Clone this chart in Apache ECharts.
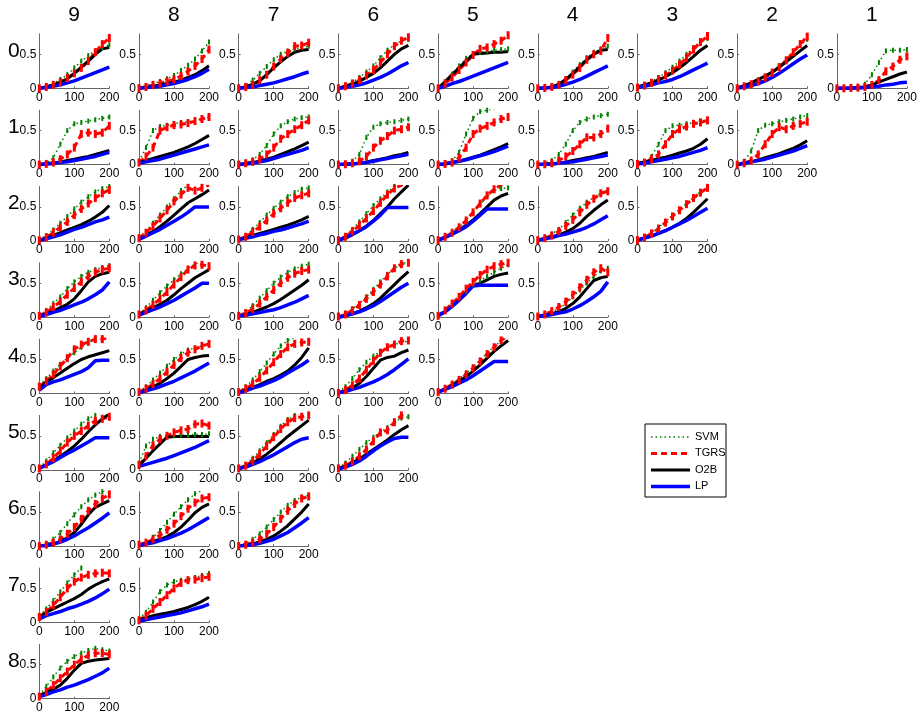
<!DOCTYPE html>
<html><head><meta charset="utf-8">
<script src="https://cdn.jsdelivr.net/npm/echarts@6/dist/echarts.min.js"></script>
<style>html,body{margin:0;padding:0;background:#fff}#c{width:920px;height:717px}</style>
</head><body><div id="c"></div>
<script>
const xs = [0,20,40,60,80,100,120,140,160,180,200];
const colLabels = ['9','8','7','6','5','4','3','2','1'];
const rowLabels = ['0','1','2','3','4','5','6','7','8'];
const seriesNames = ['SVM','TGRS','O2B','LP'];

// each row: panels for columns 9,8,7,... ; each panel: values at xs
const SVM = [
 [[0,0.03,0.07,0.13,0.2,0.3,0.4,0.48,0.55,0.6,0.64],
  [0.02,0.04,0.07,0.1,0.14,0.19,0.26,0.34,0.43,0.55,0.68],
  [0,0.04,0.12,0.22,0.32,0.42,0.5,0.55,0.58,0.6,0.62],
  [0,0.04,0.09,0.16,0.24,0.33,0.45,0.56,0.64,0.7,0.72],
  [0,0.1,0.21,0.33,0.44,0.51,0.53,0.55,0.56,0.57,0.58],
  [0,0.01,0.03,0.07,0.14,0.24,0.35,0.45,0.53,0.58,0.62],
  [0.01,0.05,0.1,0.16,0.23,0.31,0.4,0.5,0.6,0.68,0.73],
  [0,0.03,0.07,0.12,0.18,0.25,0.33,0.43,0.53,0.63,0.72],
  [0,0,0.005,0.02,0.06,0.2,0.38,0.55,0.56,0.56,0.57]],
 [[0,0.02,0.1,0.3,0.5,0.6,0.62,0.64,0.66,0.68,0.7],
  [0.05,0.25,0.5,0.56,0.58,0.6,0.62,0.63,0.65,0.67,0.7],
  [0,0.03,0.07,0.15,0.28,0.45,0.57,0.63,0.67,0.69,0.7],
  [0,0.01,0.05,0.15,0.4,0.55,0.6,0.62,0.63,0.65,0.67],
  [0,0.02,0.06,0.18,0.45,0.68,0.78,0.8,0.82,0.85,0.87],
  [0,0.02,0.06,0.15,0.3,0.5,0.62,0.67,0.7,0.72,0.74],
  [0,0.03,0.12,0.3,0.5,0.57,0.58,0.6,0.62,0.64,0.66],
  [0,0.05,0.2,0.5,0.58,0.6,0.63,0.65,0.67,0.7,0.72]],
 [[0.02,0.08,0.16,0.26,0.36,0.47,0.57,0.65,0.72,0.77,0.8],
  [0.05,0.14,0.26,0.38,0.5,0.62,0.74,0.82,0.85,0.87,0.88],
  [0.02,0.08,0.17,0.27,0.38,0.48,0.57,0.65,0.71,0.76,0.78],
  [0.02,0.08,0.17,0.28,0.4,0.52,0.62,0.72,0.8,0.85,0.88],
  [0.01,0.06,0.12,0.2,0.3,0.42,0.54,0.65,0.74,0.77,0.78],
  [0.01,0.05,0.1,0.17,0.27,0.38,0.48,0.57,0.64,0.7,0.74],
  [0.01,0.06,0.12,0.2,0.28,0.37,0.46,0.55,0.64,0.72,0.78]],
 [[0.02,0.1,0.2,0.3,0.42,0.52,0.6,0.66,0.7,0.73,0.76],
  [0.05,0.14,0.25,0.36,0.46,0.55,0.64,0.72,0.78,0.82,0.85],
  [0.02,0.08,0.17,0.28,0.39,0.5,0.59,0.66,0.71,0.75,0.78],
  [0.01,0.05,0.12,0.2,0.3,0.41,0.52,0.63,0.72,0.78,0.82],
  [0.02,0.09,0.18,0.28,0.38,0.48,0.54,0.6,0.66,0.72,0.77],
  [0.01,0.04,0.08,0.13,0.2,0.3,0.4,0.5,0.6,0.68,0.72]],
 [[0.12,0.22,0.33,0.43,0.52,0.6,0.68,0.75,0.8,0.84,0.87],
  [0.03,0.1,0.2,0.3,0.4,0.5,0.58,0.64,0.67,0.7,0.72],
  [0.02,0.1,0.2,0.32,0.45,0.58,0.7,0.78,0.82,0.85,0.87],
  [0.02,0.1,0.22,0.35,0.46,0.55,0.62,0.67,0.72,0.75,0.77],
  [0.02,0.08,0.15,0.22,0.3,0.39,0.49,0.59,0.69,0.78,0.85]],
 [[0.03,0.13,0.25,0.36,0.47,0.57,0.67,0.75,0.8,0.84,0.87],
  [0.1,0.35,0.45,0.49,0.5,0.5,0.51,0.51,0.52,0.52,0.53],
  [0.02,0.08,0.17,0.28,0.4,0.52,0.64,0.74,0.8,0.84,0.87],
  [0.03,0.1,0.2,0.3,0.4,0.48,0.55,0.62,0.7,0.76,0.78]],
 [[0,0.03,0.1,0.2,0.33,0.46,0.58,0.68,0.75,0.8,0.84],
  [0.02,0.06,0.13,0.23,0.35,0.47,0.58,0.68,0.77,0.82,0.85],
  [0.01,0.04,0.1,0.18,0.28,0.39,0.5,0.6,0.67,0.72,0.75]],
 [[0.1,0.2,0.32,0.45,0.58,0.7,0.8,0.85,0.88,0.9,0.9],
  [0.05,0.15,0.3,0.45,0.55,0.6,0.62,0.64,0.66,0.69,0.72]],
 [[0.05,0.18,0.32,0.45,0.55,0.62,0.67,0.71,0.74,0.72,0.7]]
];

const TGRS = [
 [[0,0.02,0.05,0.09,0.15,0.22,0.3,0.4,0.53,0.65,0.74],
  [0,0.02,0.05,0.07,0.1,0.13,0.18,0.25,0.33,0.43,0.57],
  [0,0.02,0.05,0.12,0.2,0.32,0.43,0.52,0.62,0.63,0.67],
  [0,0.03,0.07,0.12,0.19,0.27,0.38,0.5,0.62,0.7,0.75],
  [0,0.07,0.16,0.27,0.38,0.49,0.58,0.6,0.65,0.7,0.78],
  [0,0.005,0.02,0.05,0.12,0.2,0.3,0.42,0.5,0.55,0.74],
  [0.01,0.04,0.08,0.13,0.19,0.26,0.35,0.45,0.57,0.68,0.77],
  [0,0.03,0.06,0.1,0.16,0.23,0.31,0.41,0.53,0.65,0.76],
  [0,0,0.005,0.01,0.02,0.05,0.12,0.25,0.32,0.42,0.47]],
 [[0,0.01,0.03,0.08,0.15,0.25,0.45,0.47,0.45,0.47,0.57],
  [0.03,0.12,0.25,0.5,0.55,0.58,0.59,0.61,0.64,0.67,0.7],
  [0,0.02,0.04,0.08,0.15,0.25,0.38,0.45,0.52,0.58,0.65],
  [0,0.005,0.02,0.05,0.12,0.25,0.35,0.42,0.5,0.52,0.55],
  [0,0.01,0.03,0.1,0.25,0.45,0.53,0.57,0.62,0.67,0.7],
  [0,0.005,0.02,0.06,0.12,0.2,0.3,0.4,0.4,0.45,0.53],
  [0.01,0.03,0.08,0.15,0.3,0.45,0.52,0.56,0.6,0.62,0.65],
  [0,0.02,0.06,0.15,0.3,0.45,0.55,0.52,0.57,0.6,0.63]],
 [[0.01,0.05,0.12,0.2,0.28,0.38,0.47,0.55,0.63,0.7,0.75],
  [0.04,0.12,0.22,0.33,0.45,0.58,0.68,0.78,0.74,0.78,0.82],
  [0.02,0.06,0.13,0.21,0.3,0.4,0.48,0.56,0.63,0.67,0.7],
  [0.01,0.06,0.14,0.23,0.33,0.44,0.56,0.68,0.77,0.82,0.86],
  [0.01,0.06,0.12,0.2,0.3,0.42,0.55,0.67,0.76,0.82,0.86],
  [0.01,0.04,0.08,0.14,0.22,0.31,0.42,0.53,0.62,0.7,0.73],
  [0.01,0.05,0.11,0.18,0.27,0.36,0.45,0.54,0.63,0.71,0.78]],
 [[0.02,0.07,0.15,0.23,0.33,0.43,0.52,0.6,0.66,0.7,0.72],
  [0.04,0.1,0.18,0.27,0.37,0.48,0.59,0.7,0.76,0.77,0.75],
  [0.02,0.06,0.12,0.2,0.3,0.4,0.5,0.58,0.64,0.68,0.7],
  [0.01,0.04,0.1,0.18,0.27,0.37,0.48,0.6,0.72,0.78,0.8],
  [0.02,0.1,0.2,0.3,0.42,0.52,0.62,0.7,0.75,0.78,0.8],
  [0.01,0.04,0.09,0.15,0.23,0.33,0.44,0.55,0.66,0.72,0.66]],
 [[0.1,0.18,0.28,0.4,0.52,0.65,0.72,0.76,0.8,0.8,0.82],
  [0.02,0.07,0.14,0.22,0.32,0.42,0.52,0.6,0.65,0.7,0.73],
  [0.02,0.07,0.14,0.23,0.34,0.46,0.58,0.68,0.73,0.75,0.76],
  [0.01,0.05,0.12,0.22,0.35,0.48,0.6,0.68,0.72,0.77,0.78],
  [0.02,0.07,0.13,0.2,0.28,0.37,0.47,0.58,0.68,0.78,0.85]],
 [[0.02,0.08,0.17,0.28,0.4,0.5,0.57,0.65,0.72,0.75,0.78],
  [0.07,0.2,0.36,0.45,0.5,0.55,0.58,0.6,0.67,0.68,0.65],
  [0.02,0.06,0.13,0.23,0.35,0.48,0.6,0.7,0.76,0.78,0.8],
  [0.02,0.06,0.12,0.2,0.3,0.42,0.55,0.58,0.7,0.8,0.85]],
 [[0,0.02,0.05,0.1,0.18,0.28,0.4,0.52,0.62,0.7,0.76],
  [0.02,0.05,0.1,0.16,0.24,0.33,0.44,0.55,0.64,0.7,0.72],
  [0,0.02,0.05,0.1,0.18,0.28,0.4,0.52,0.62,0.7,0.73]],
 [[0.08,0.15,0.25,0.37,0.5,0.6,0.66,0.7,0.72,0.73,0.72],
  [0.03,0.1,0.2,0.3,0.4,0.5,0.58,0.62,0.63,0.65,0.67]],
 [[0.03,0.1,0.2,0.3,0.4,0.5,0.58,0.64,0.67,0.67,0.65]]
];

const O2B = [
 [[0,0.02,0.05,0.09,0.14,0.22,0.31,0.4,0.5,0.58,0.6],
  [0,0.01,0.03,0.05,0.07,0.09,0.12,0.16,0.2,0.26,0.33],
  [0,0.02,0.06,0.11,0.2,0.3,0.39,0.47,0.53,0.56,0.57],
  [0,0.03,0.06,0.1,0.16,0.22,0.3,0.4,0.5,0.58,0.63],
  [0,0.1,0.2,0.3,0.4,0.5,0.51,0.52,0.53,0.53,0.54],
  [0,0.005,0.02,0.06,0.13,0.22,0.32,0.42,0.5,0.56,0.57],
  [0.02,0.05,0.08,0.12,0.17,0.23,0.3,0.38,0.47,0.56,0.63],
  [0.01,0.04,0.08,0.13,0.18,0.24,0.31,0.39,0.47,0.55,0.63],
  [0,0,0.005,0.01,0.02,0.05,0.09,0.13,0.17,0.21,0.24]],
 [[0,0.01,0.02,0.04,0.06,0.08,0.1,0.12,0.15,0.18,0.21],
  [0.03,0.06,0.09,0.12,0.15,0.18,0.22,0.26,0.31,0.37,0.43],
  [0,0.01,0.03,0.05,0.08,0.11,0.15,0.19,0.23,0.28,0.33],
  [0,0.005,0.01,0.02,0.04,0.06,0.08,0.1,0.13,0.15,0.18],
  [0,0.01,0.03,0.05,0.08,0.11,0.14,0.18,0.22,0.26,0.31],
  [0,0.005,0.01,0.02,0.04,0.06,0.08,0.1,0.12,0.15,0.18],
  [0.02,0.04,0.06,0.09,0.11,0.14,0.17,0.2,0.24,0.3,0.38],
  [0,0.02,0.04,0.07,0.1,0.13,0.16,0.2,0.24,0.29,0.35]],
 [[0.01,0.04,0.08,0.12,0.16,0.2,0.24,0.29,0.35,0.42,0.52],
  [0.02,0.08,0.14,0.21,0.29,0.38,0.47,0.56,0.62,0.68,0.75],
  [0.02,0.05,0.08,0.11,0.14,0.17,0.2,0.23,0.27,0.31,0.36],
  [0.01,0.04,0.09,0.15,0.22,0.3,0.4,0.5,0.62,0.72,0.82],
  [0.01,0.05,0.1,0.16,0.23,0.31,0.4,0.5,0.6,0.66,0.7],
  [0.01,0.03,0.06,0.09,0.13,0.18,0.26,0.36,0.45,0.53,0.6],
  [0.01,0.04,0.07,0.11,0.15,0.2,0.26,0.33,0.42,0.52,0.62]],
 [[0.02,0.05,0.09,0.14,0.19,0.27,0.39,0.52,0.6,0.64,0.66],
  [0.05,0.09,0.14,0.19,0.25,0.33,0.42,0.5,0.58,0.64,0.7],
  [0.02,0.04,0.07,0.11,0.15,0.2,0.26,0.33,0.4,0.47,0.55],
  [0,0.02,0.05,0.09,0.14,0.2,0.28,0.38,0.48,0.58,0.67],
  [0.02,0.08,0.16,0.25,0.36,0.46,0.5,0.55,0.6,0.63,0.65],
  [0.01,0.03,0.05,0.08,0.13,0.2,0.3,0.42,0.54,0.58,0.6]],
 [[0.08,0.17,0.23,0.3,0.37,0.44,0.5,0.54,0.57,0.6,0.63],
  [0.02,0.05,0.1,0.15,0.22,0.3,0.4,0.5,0.53,0.55,0.56],
  [0.02,0.05,0.09,0.13,0.18,0.22,0.27,0.33,0.42,0.53,0.67],
  [0.01,0.04,0.08,0.15,0.25,0.37,0.49,0.53,0.55,0.6,0.64],
  [0.02,0.07,0.12,0.18,0.25,0.33,0.42,0.52,0.62,0.7,0.78]],
 [[0.02,0.07,0.13,0.2,0.27,0.35,0.45,0.56,0.66,0.75,0.82],
  [0.06,0.17,0.28,0.38,0.48,0.49,0.49,0.49,0.49,0.49,0.49],
  [0.02,0.05,0.1,0.16,0.23,0.31,0.4,0.49,0.57,0.65,0.73],
  [0.02,0.05,0.1,0.16,0.23,0.3,0.37,0.44,0.52,0.59,0.65]],
 [[0,0.01,0.03,0.07,0.12,0.2,0.32,0.46,0.57,0.62,0.67],
  [0.02,0.04,0.07,0.1,0.14,0.2,0.28,0.38,0.49,0.57,0.62],
  [0,0.01,0.03,0.06,0.1,0.15,0.22,0.3,0.4,0.5,0.62]],
 [[0.07,0.15,0.2,0.25,0.3,0.35,0.41,0.49,0.55,0.6,0.64],
  [0.04,0.07,0.1,0.12,0.14,0.16,0.19,0.22,0.26,0.31,0.37]],
 [[0.05,0.09,0.14,0.2,0.3,0.42,0.52,0.55,0.57,0.58,0.59]]
];

const LP = [
 [[0,0.01,0.03,0.05,0.08,0.11,0.15,0.19,0.23,0.27,0.31],
  [0,0.01,0.02,0.03,0.05,0.07,0.1,0.13,0.17,0.22,0.28],
  [0,0.01,0.02,0.04,0.06,0.08,0.11,0.14,0.17,0.21,0.24],
  [0,0.01,0.03,0.05,0.08,0.12,0.16,0.21,0.27,0.33,0.38],
  [0,0.03,0.07,0.1,0.14,0.18,0.22,0.26,0.3,0.34,0.38],
  [0,0.005,0.01,0.03,0.06,0.09,0.13,0.18,0.23,0.28,0.33],
  [0.01,0.03,0.05,0.08,0.1,0.13,0.17,0.22,0.27,0.32,0.37],
  [0,0.02,0.04,0.07,0.11,0.16,0.22,0.29,0.36,0.43,0.49],
  [0,0,0,0.005,0.01,0.02,0.03,0.05,0.06,0.08,0.09]],
 [[0,0.01,0.02,0.03,0.04,0.06,0.08,0.1,0.12,0.15,0.18],
  [0.02,0.04,0.06,0.08,0.11,0.14,0.17,0.2,0.23,0.26,0.29],
  [0,0.01,0.02,0.04,0.06,0.09,0.12,0.15,0.18,0.21,0.25],
  [0,0.005,0.01,0.02,0.03,0.05,0.07,0.09,0.11,0.13,0.15],
  [0,0.01,0.03,0.05,0.07,0.1,0.13,0.16,0.19,0.23,0.27],
  [0,0.005,0.01,0.02,0.03,0.04,0.06,0.08,0.1,0.12,0.14],
  [0.01,0.02,0.04,0.06,0.08,0.1,0.12,0.15,0.18,0.21,0.25],
  [0,0.02,0.04,0.06,0.08,0.11,0.14,0.17,0.2,0.24,0.28]],
 [[0.01,0.03,0.06,0.09,0.13,0.17,0.2,0.24,0.28,0.31,0.35],
  [0.02,0.07,0.12,0.17,0.23,0.29,0.35,0.42,0.5,0.5,0.5],
  [0.02,0.04,0.06,0.09,0.11,0.14,0.16,0.19,0.22,0.25,0.29],
  [0.01,0.05,0.1,0.15,0.21,0.29,0.38,0.49,0.49,0.49,0.49],
  [0.01,0.05,0.1,0.15,0.21,0.29,0.38,0.47,0.47,0.47,0.47],
  [0.01,0.03,0.05,0.08,0.1,0.13,0.16,0.2,0.25,0.31,0.37],
  [0.01,0.04,0.07,0.11,0.15,0.2,0.25,0.3,0.36,0.42,0.48]],
 [[0.01,0.04,0.07,0.1,0.14,0.18,0.22,0.27,0.33,0.4,0.52],
  [0.03,0.07,0.11,0.15,0.2,0.25,0.31,0.37,0.43,0.5,0.5],
  [0.02,0.03,0.05,0.07,0.09,0.11,0.14,0.18,0.22,0.27,0.32],
  [0,0.02,0.05,0.08,0.12,0.17,0.23,0.3,0.37,0.44,0.5],
  [0.02,0.08,0.16,0.25,0.35,0.46,0.47,0.47,0.47,0.47,0.47],
  [0.01,0.02,0.04,0.06,0.08,0.12,0.17,0.23,0.3,0.38,0.52]],
 [[0.05,0.13,0.17,0.2,0.24,0.28,0.32,0.38,0.48,0.49,0.49],
  [0.01,0.04,0.07,0.1,0.14,0.18,0.23,0.28,0.33,0.39,0.45],
  [0.01,0.04,0.08,0.11,0.15,0.19,0.24,0.3,0.36,0.42,0.49],
  [0.01,0.03,0.06,0.09,0.13,0.17,0.22,0.28,0.35,0.43,0.51],
  [0.02,0.06,0.1,0.15,0.2,0.26,0.33,0.4,0.47,0.47,0.47]],
 [[0.02,0.07,0.12,0.18,0.24,0.29,0.35,0.41,0.47,0.47,0.47],
  [0.05,0.08,0.11,0.14,0.17,0.21,0.25,0.29,0.33,0.38,0.43],
  [0.02,0.04,0.08,0.12,0.17,0.22,0.28,0.34,0.4,0.45,0.47],
  [0.01,0.04,0.08,0.13,0.2,0.28,0.35,0.41,0.46,0.48,0.48]],
 [[0,0.01,0.03,0.06,0.1,0.15,0.21,0.27,0.34,0.41,0.49],
  [0.01,0.03,0.05,0.08,0.11,0.15,0.19,0.24,0.3,0.36,0.42],
  [0,0.01,0.02,0.04,0.07,0.1,0.15,0.2,0.27,0.34,0.42]],
 [[0.05,0.1,0.13,0.16,0.2,0.23,0.27,0.31,0.36,0.42,0.49],
  [0.02,0.04,0.06,0.08,0.1,0.12,0.14,0.17,0.2,0.23,0.27]],
 [[0.03,0.06,0.1,0.13,0.17,0.2,0.24,0.28,0.33,0.38,0.45]]
];

const FONT = 'Liberation Sans, Arial, Helvetica, sans-serif';
const colLeft0 = 39.3, colStep = 99.7, plotW = 70;
const rowBottom0 = 88.3, rowStep = 76.3, plotH = 54.4;

const styles = {
  SVM:  {line:{color:'#008000', width:1.5, type:[1.5,3]}, sym:'rect', symSize:[2,5], symColor:'#008000'},
  TGRS: {line:{color:'#ff0000', width:3, type:[6,4]}, sym:'rect', symSize:[3,8], symColor:'#ff0000'},
  O2B:  {line:{color:'#000000', width:3, type:'solid'}, sym:'none'},
  LP:   {line:{color:'#0000ff', width:3.5, type:'solid'}, sym:'none'}
};
const dataBy = {SVM, TGRS, O2B, LP};

const grids = [], xAxes = [], yAxes = [], series = [], graphics = [];
let gi = 0;
for (let r = 0; r < 9; r++) {
  const bottom = rowBottom0 + rowStep * r;
  graphics.push({type:'text', left: 8, top: bottom - 48, style:{text: rowLabels[r], font: '21px ' + FONT, fill:'#000'}});
  for (let c = 0; c < 9 - r; c++) {
    const left = colLeft0 + colStep * c;
    grids.push({left: left, top: bottom - plotH, width: plotW, height: plotH, containLabel:false});
    xAxes.push({gridIndex: gi, type:'value', min:0, max:200, interval:100,
      axisLine:{show:true, lineStyle:{color:'#666', width:1}},
      axisTick:{show:true, inside:true, length:2, lineStyle:{color:'#666'}},
      splitLine:{show:false},
      axisLabel:{color:'#000', fontSize:12, fontFamily:FONT, margin:3}});
    yAxes.push({gridIndex: gi, type:'value', min:0, max:0.8, interval:0.5,
      axisLine:{show:true, lineStyle:{color:'#666', width:1}},
      axisTick:{show:true, inside:true, length:2, lineStyle:{color:'#666'}},
      splitLine:{show:false},
      axisLabel:{color:'#000', fontSize:12, fontFamily:FONT, margin:3, showMaxLabel:false,
        formatter: v => (v === 0 ? '0' : (Math.abs(v - 0.5) < 1e-9 ? '0.5' : ''))}});
    seriesNames.forEach(name => {
      const st = styles[name];
      const vals = dataBy[name][r][c];
      series.push({type:'line', name: name, xAxisIndex: gi, yAxisIndex: gi,
        data: xs.map((x, k) => [x, vals[k]]),
        symbol: st.sym, symbolSize: st.symSize, showSymbol: st.sym !== 'none', showAllSymbol: true,
        itemStyle: {color: st.symColor || st.line.color},
        lineStyle: st.line, clip: true, silent: true, animation: false, smooth: false});
    });
    gi++;
  }
}
colLabels.forEach((t, c) => {
  graphics.push({type:'text', left: colLeft0 + colStep * c + plotW / 2 - 6, top: 5,
    style:{text: t, font: '21px ' + FONT, fill:'#000'}});
});

// legend box
const lgX = 645, lgY = 424, lgW = 81, lgH = 73;
graphics.push({type:'rect', shape:{x:lgX, y:lgY, width:lgW, height:lgH}, style:{fill:'#fff', stroke:'#000', lineWidth:1}});
seriesNames.forEach((name, i) => {
  const y = lgY + 13 + i * 16.5;
  const st = styles[name];
  graphics.push({type:'line', shape:{x1:lgX + 6, y1:y, x2:lgX + 45, y2:y},
    style:{stroke: st.line.color, lineWidth: st.line.width, lineDash: Array.isArray(st.line.type) ? st.line.type : null}});
  graphics.push({type:'text', left: lgX + 50, top: y - 6, style:{text: name, font:'11px ' + FONT, fill:'#000'}});
});

const chart = echarts.init(document.getElementById('c'), null, {renderer:'canvas'});
chart.setOption({animation:false, backgroundColor:'#fff', grid: grids, xAxis: xAxes, yAxis: yAxes, series: series, graphic: graphics});
</script></body></html>
